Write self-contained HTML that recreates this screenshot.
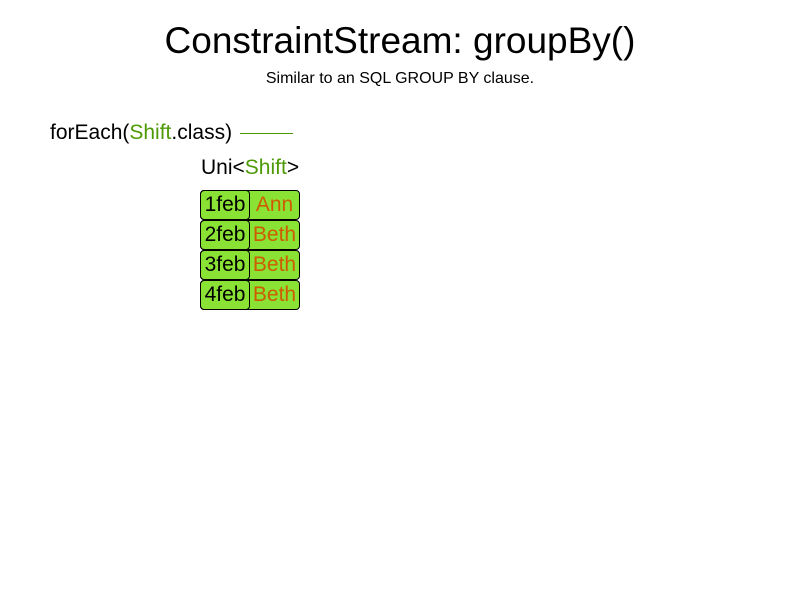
<!DOCTYPE html>
<html><head><style>
body{margin:0;width:800px;height:600px;background:#fff;position:relative;font-family:"Liberation Sans",sans-serif;overflow:hidden}
.t{position:absolute;white-space:nowrap}
.g{color:#4e9a06}
.row{position:absolute;left:200px;width:98px;height:28px;background:#8ae234;border:1px solid #000;border-radius:4px}
.row .l{position:absolute;left:-1px;top:-1px;width:48px;height:28px;border:1px solid #000;border-radius:4px;font-size:21px;line-height:28px;text-align:center;color:#000}
.row .r{position:absolute;left:49px;top:0;width:49px;height:28px;font-size:21px;line-height:28px;text-align:center;color:#ce5c00}
</style></head><body>
<div class="t" style="left:0;width:800px;text-align:center;top:20px;font-size:37px;">ConstraintStream: groupBy()</div>
<div class="t" style="left:0;width:800px;text-align:center;top:70px;font-size:16px;">Similar to an SQL GROUP BY clause.</div>
<div class="t" style="left:50px;top:121px;font-size:21px;">forEach(<span class="g">Shift</span>.class)</div>
<div style="position:absolute;left:240px;top:133px;width:53px;height:1px;background:#4e9a06"></div>
<div class="t" style="left:201px;top:156px;font-size:21px;">Uni&lt;<span class="g">Shift</span>&gt;</div>
<div class="row" style="top:190px"><div class="l">1feb</div><div class="r">Ann</div></div>
<div class="row" style="top:220px"><div class="l">2feb</div><div class="r">Beth</div></div>
<div class="row" style="top:250px"><div class="l">3feb</div><div class="r">Beth</div></div>
<div class="row" style="top:280px"><div class="l">4feb</div><div class="r">Beth</div></div>
</body></html>
